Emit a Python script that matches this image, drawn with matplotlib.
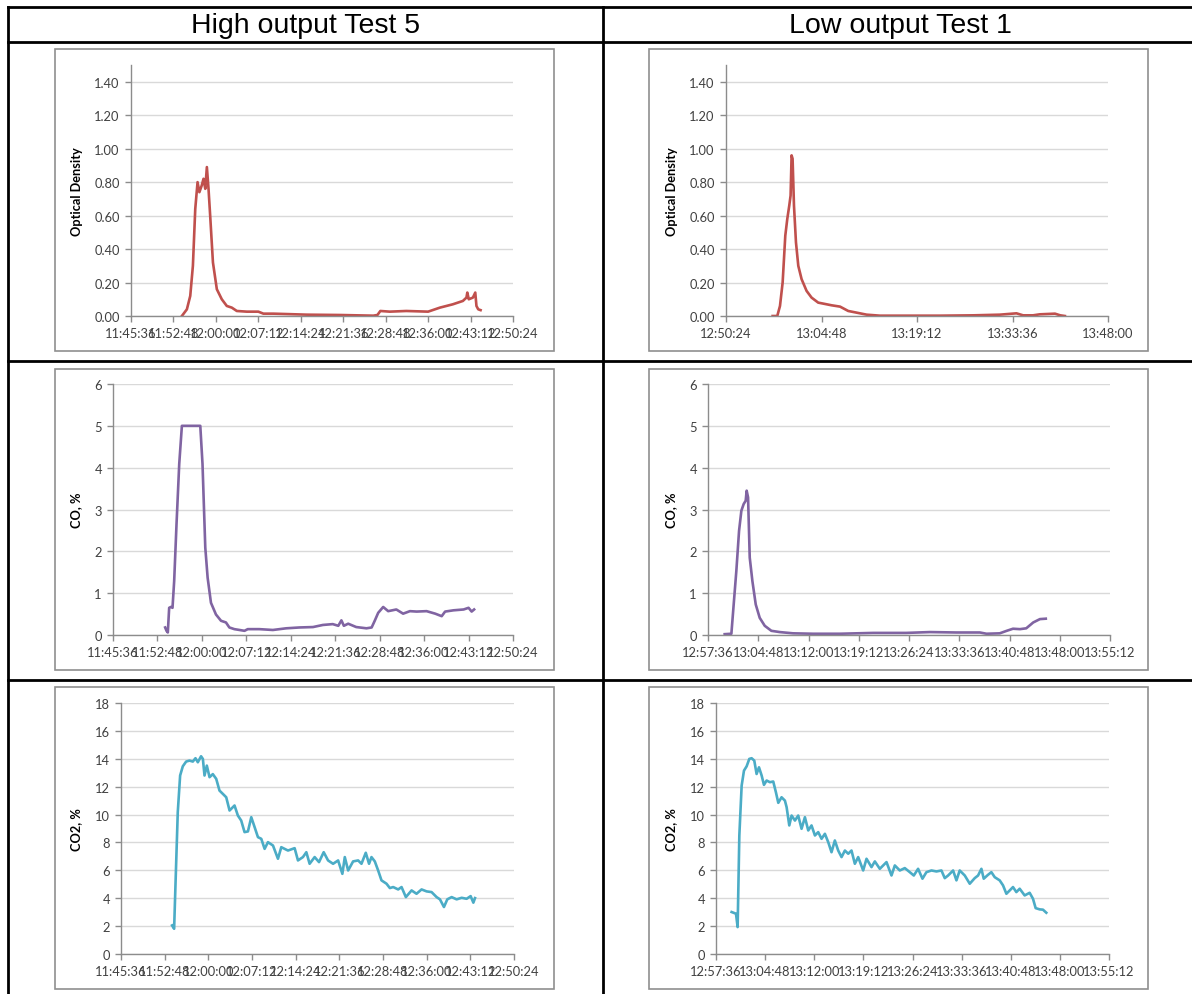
import numpy as np
import matplotlib.pyplot as plt
from matplotlib.patches import Rectangle
from matplotlib.lines import Line2D
from matplotlib.ticker import FuncFormatter

# ---- data (time = minutes after the axis start) ----
T0_HIGH = "11:45:36"
T0_LOW_OD = "12:50:24"
T0_LOW = "12:57:36"

hi_od_t = [8.63, 9.48, 10.05, 10.5, 10.9, 11.29, 11.6, 12.0, 12.3, 12.6, 12.87, 13.15,
           13.43, 13.9, 14.56, 15.4, 16.25, 17.1, 17.95, 19.64, 21.6, 22.46, 24.15, 29.8,
           35.4, 41.1, 41.8, 42.3, 43.9, 46.7, 50.4, 52.4, 54.6, 56.3, 56.9, 57.05, 57.3,
           58.0, 58.4, 58.6, 58.9, 59.3]
hi_od = [0.0, 0.04, 0.12, 0.30, 0.64, 0.80, 0.74, 0.78, 0.82, 0.76, 0.89, 0.76,
         0.60, 0.32, 0.16, 0.10, 0.06, 0.05, 0.03, 0.026, 0.026, 0.014, 0.014, 0.008,
         0.006, 0.002, 0.006, 0.03, 0.026, 0.03, 0.026, 0.05, 0.07, 0.09, 0.11, 0.14, 0.10,
         0.11, 0.14, 0.06, 0.04, 0.035]

lo_od_t = [7.03, 7.73, 8.14, 8.54, 8.94, 9.24, 9.54, 9.74, 9.89, 10.04, 10.25, 10.55,
           10.9, 11.4, 12.15, 12.9, 13.9, 15.17, 15.92, 17.2, 18.43, 19.7, 21.2, 23.2,
           27.2, 32.2, 37.3, 41.3, 43.8, 44.8, 46.3, 47.3, 49.6, 50.4, 51.1]
lo_od = [0.0, 0.0, 0.06, 0.20, 0.48, 0.58, 0.66, 0.72, 0.96, 0.94, 0.66, 0.44,
         0.30, 0.22, 0.15, 0.11, 0.08, 0.07, 0.064, 0.056, 0.03, 0.02, 0.008, 0.002,
         0.002, 0.002, 0.004, 0.008, 0.016, 0.004, 0.004, 0.01, 0.014, 0.004, 0.0]

hi_co_t = [8.45, 8.67, 8.88, 9.1, 9.37, 9.64, 9.91, 10.29, 10.73, 11.16, 14.14, 14.5,
           14.95, 15.33, 15.87, 16.68, 17.5, 18.3, 18.85, 19.66, 20.5, 21.3, 21.83, 23.7,
           25.9, 28.06, 30.2, 32.4, 34.0, 35.6, 36.5, 37.0, 37.4, 38.1, 39.4, 41.06, 41.9,
           42.4, 42.96, 43.77, 44.58, 45.9, 47.0, 48.1, 49.2, 50.8, 52.2, 53.25, 53.8,
           55.15, 56.8, 57.6, 58.1, 58.5]
hi_co = [0.18, 0.10, 0.06, 0.65, 0.67, 0.65, 1.29, 2.65, 4.09, 5.0, 5.0, 4.09,
         2.09, 1.37, 0.77, 0.49, 0.34, 0.30, 0.18, 0.14, 0.12, 0.10, 0.14, 0.14,
         0.12, 0.16, 0.18, 0.19, 0.24, 0.26, 0.22, 0.35, 0.22, 0.27, 0.19, 0.16, 0.18,
         0.34, 0.53, 0.67, 0.57, 0.61, 0.51, 0.57, 0.56, 0.57, 0.51, 0.45, 0.56,
         0.59, 0.61, 0.65, 0.56, 0.61]

lo_co_t = [2.39, 3.35, 3.68, 4.06, 4.45, 4.78, 5.11, 5.4, 5.54, 5.74, 5.98, 6.36,
           6.84, 7.41, 8.13, 9.08, 10.28, 12.19, 15.06, 18.9, 23.66, 28.4, 31.8, 35.6,
           38.96, 39.9, 41.8, 42.8, 43.7, 44.7, 45.6, 46.6, 47.56, 48.4]
lo_co = [0.02, 0.03, 0.73, 1.53, 2.49, 2.97, 3.13, 3.21, 3.45, 3.29, 1.85, 1.29,
         0.73, 0.41, 0.22, 0.10, 0.07, 0.04, 0.03, 0.03, 0.05, 0.05, 0.07, 0.06,
         0.06, 0.03, 0.04, 0.10, 0.15, 0.14, 0.16, 0.30, 0.38, 0.39]

hi_co2_t = [8.42, 8.76, 8.98, 9.36, 9.75, 10.19, 10.74, 11.29, 11.84, 12.28, 12.67, 13.2,
            13.5, 13.77, 14.15, 14.6, 15.14, 15.7, 16.24, 16.8, 17.35, 17.9, 18.72, 19.27,
            19.82, 20.37, 20.93, 21.48, 22.03, 22.58, 23.13, 23.68, 24.23, 25.06, 25.88,
            26.43, 27.53, 28.63, 29.18, 30.0, 30.56, 31.1, 31.93, 32.65, 33.42, 34.14,
            34.97, 35.8, 36.5, 36.9, 37.45, 38.27, 39.1, 39.65, 40.36, 40.9, 41.3, 41.85,
            42.4, 42.95, 43.78, 44.33, 44.88, 45.7, 46.26, 46.97, 47.91, 48.73, 49.56,
            50.39, 51.21, 52.04, 52.59, 53.25, 53.8, 54.52, 55.34, 56.17, 56.99, 57.65,
            58.1, 58.37]
hi_co2 = [2.05, 1.81, 4.92, 10.17, 12.8, 13.46, 13.8, 13.87, 13.8, 14.04, 13.75, 14.18,
          13.99, 12.8, 13.51, 12.68, 12.9, 12.56, 11.72, 11.48, 11.24, 10.29, 10.65, 9.93,
          9.57, 8.74, 8.79, 9.81, 9.1, 8.38, 8.26, 7.54, 8.02, 7.78, 6.83,
          7.66, 7.42, 7.59, 6.71, 6.95, 7.3, 6.47, 6.95, 6.59, 7.3, 6.71,
          6.47, 6.71, 5.75, 6.95, 5.99, 6.64, 6.71, 6.47, 7.26, 6.47, 6.95, 6.64,
          5.99, 5.28, 5.04, 4.73, 4.8, 4.63, 4.8, 4.08, 4.56, 4.32, 4.63,
          4.49, 4.44, 4.08, 3.92, 3.37, 3.92, 4.08, 3.92, 4.03, 3.96, 4.15,
          3.68, 4.01]

lo_co2_t = [2.29, 2.93, 3.17, 3.42, 3.76, 4.1, 4.49, 4.88, 5.22, 5.61, 5.95, 6.3,
            6.69, 7.03, 7.42, 7.9, 8.39, 8.78, 9.13, 9.61, 10.1, 10.35, 10.74, 11.08,
            11.57, 12.05, 12.54, 13.03, 13.52, 14.0, 14.5, 14.98, 15.47, 15.96, 16.45,
            16.93, 17.42, 17.91, 18.4, 18.89, 19.38, 19.86, 20.35, 20.84, 21.57, 22.06,
            22.79, 23.28, 24.01, 24.99, 25.72, 26.21, 26.94, 27.67, 28.4, 28.99, 29.62,
            30.26, 30.84, 31.58, 32.31, 33.04, 33.53, 34.02, 34.75, 35.24, 35.72, 36.46,
            37.19, 37.92, 38.41, 38.9, 39.24, 39.87, 40.36, 40.85, 41.58, 42.07, 42.56,
            43.05, 43.53, 44.02, 44.51, 45.24, 45.97, 46.46, 46.85, 47.44, 47.92, 48.41]
lo_co2 = [3.01, 2.89, 1.93, 8.5, 12.08, 13.15, 13.46, 13.99, 14.04, 13.87, 12.91, 13.39,
          12.8, 12.13, 12.44, 12.32, 12.37, 11.6, 10.84, 11.24, 11.0, 10.53, 9.22, 9.93,
          9.57, 9.93, 8.98, 9.81, 8.86, 9.22, 8.5, 8.74, 8.26, 8.62, 8.02,
          7.3, 8.14, 7.42, 6.95, 7.42, 7.19, 7.42, 6.47, 6.95, 5.99, 6.83,
          6.23, 6.64, 6.11, 6.59, 5.63, 6.35, 5.99, 6.16, 5.87, 5.63, 6.11,
          5.4, 5.87, 5.99, 5.92, 5.99, 5.44, 5.63, 5.99, 5.28, 5.99, 5.63,
          5.04, 5.44, 5.63, 6.11, 5.4, 5.68, 5.87, 5.51, 5.28, 4.92, 4.32,
          4.56, 4.8, 4.44, 4.68, 4.2, 4.39, 3.96, 3.29, 3.2, 3.18, 2.96]

headers = ["High output Test 5", "Low output Test 1"]

RED = '#C0504D'
PURPLE = '#8064A2'
TEAL = '#4BACC6'

W, H = 1192, 995
fig = plt.figure(figsize=(W / 100, H / 100), dpi=100)


def day(s):
    h, m, sec = map(int, s.split(':'))
    return (h * 3600 + m * 60 + sec) / 86400.0


def hms(x, pos=None):
    s = int(round(x * 86400))
    return '%d:%02d:%02d' % (s // 3600, (s % 3600) // 60, s % 60)


def fig_line(x0, y0, x1, y1):
    fig.add_artist(Line2D([x0 / W, x1 / W], [1 - y0 / H, 1 - y1 / H],
                          transform=fig.transFigure, color='black', lw=2.0))


# table grid (right and bottom borders fall outside the picture)
for y in [8, 43, 362, 681]:
    fig_line(8, y, 1200, y)
for x in [8, 603]:
    fig_line(x, 8, x, 1000)

fig.text(306 / W, 1 - 26 / H, headers[0], ha='center', va='center',
         family='Liberation Sans', fontsize=20.5)
fig.text(900 / W, 1 - 26 / H, headers[1], ha='center', va='center',
         family='Liberation Sans', fontsize=20.5)

# panel layout in pixels: box (l, t, r, b), axes (l, t, r, b), ylabel x
panels = [
    dict(box=(55, 50, 554, 352), ax=(131, 66, 513, 317), lab=83,
         t0=T0_HIGH, t=hi_od_t, y=hi_od, c=RED, ylim=1.5, ystep=0.2, yfmt='%.2f',
         ylabel='Optical Density', x0="11:45:36", x1="12:50:24", xstep=432),
    dict(box=(649, 50, 1148, 352), ax=(726, 66, 1108, 317), lab=678,
         t0=T0_LOW_OD, t=lo_od_t, y=lo_od, c=RED, ylim=1.5, ystep=0.2, yfmt='%.2f',
         ylabel='Optical Density', x0="12:50:24", x1="13:48:00", xstep=864),
    dict(box=(55, 370, 554, 671), ax=(113, 385, 513, 636), lab=82,
         t0=T0_HIGH, t=hi_co_t, y=hi_co, c=PURPLE, ylim=6, ystep=1, yfmt='%d',
         ylabel='CO, %', x0="11:45:36", x1="12:50:24", xstep=432),
    dict(box=(649, 370, 1148, 671), ax=(708, 385, 1110, 636), lab=677,
         t0=T0_LOW, t=lo_co_t, y=lo_co, c=PURPLE, ylim=6, ystep=1, yfmt='%d',
         ylabel='CO, %', x0="12:57:36", x1="13:55:12", xstep=432),
    dict(box=(55, 688, 554, 990), ax=(121, 704, 514, 955), lab=82,
         t0=T0_HIGH, t=hi_co2_t, y=hi_co2, c=TEAL, ylim=18, ystep=2, yfmt='%d',
         ylabel='CO2, %', x0="11:45:36", x1="12:50:24", xstep=432),
    dict(box=(649, 688, 1148, 990), ax=(716, 704, 1109, 955), lab=677,
         t0=T0_LOW, t=lo_co2_t, y=lo_co2, c=TEAL, ylim=18, ystep=2, yfmt='%d',
         ylabel='CO2, %', x0="12:57:36", x1="13:55:12", xstep=432),
]

for p in panels:
    bl, bt, br, bb = p['box']
    fig.add_artist(Rectangle((bl / W, 1 - bb / H), (br - bl) / W, (bb - bt) / H,
                             transform=fig.transFigure, fill=False,
                             ec='#8f8f8f', lw=1.2))
    l, t, r, b = p['ax']
    ax = fig.add_axes([l / W, 1 - b / H, (r - l) / W, (b - t) / H])

    x = day(p['t0']) + np.array(p['t']) / 1440.0
    ax.plot(x, p['y'], color=p['c'], lw=1.9, solid_joinstyle='round')

    ax.set_xlim(day(p['x0']), day(p['x1']))
    ax.set_ylim(0, p['ylim'])
    ax.set_xticks(np.arange(day(p['x0']), day(p['x1']) + 1e-9, p['xstep'] / 86400.0))
    ax.xaxis.set_major_formatter(FuncFormatter(hms))
    ax.set_yticks(np.arange(0, p['ylim'] + 1e-9, p['ystep']))
    ax.yaxis.set_major_formatter(FuncFormatter(lambda v, pos, f=p['yfmt']: f % v))

    ax.grid(axis='y', color='#d9d9d9', lw=1.0)
    ax.set_axisbelow(True)
    for s in ['top', 'right']:
        ax.spines[s].set_visible(False)
    for s in ['left', 'bottom']:
        ax.spines[s].set_color('#8c8c8c')
        ax.spines[s].set_linewidth(1.0)
    ax.tick_params(colors='#8c8c8c', length=4, width=1.0, labelcolor='#404040',
                   labelsize=9.3, pad=4)
    for lab in ax.get_xticklabels() + ax.get_yticklabels():
        lab.set_family('Lato')

    ax.set_ylabel(p['ylabel'], fontsize=9.2, fontweight='bold', family='Lato')
    ax.yaxis.set_label_coords((p['lab'] - l) / (r - l), 0.5)
    ax.set_facecolor('none')

fig.savefig('out.png', dpi=100)
